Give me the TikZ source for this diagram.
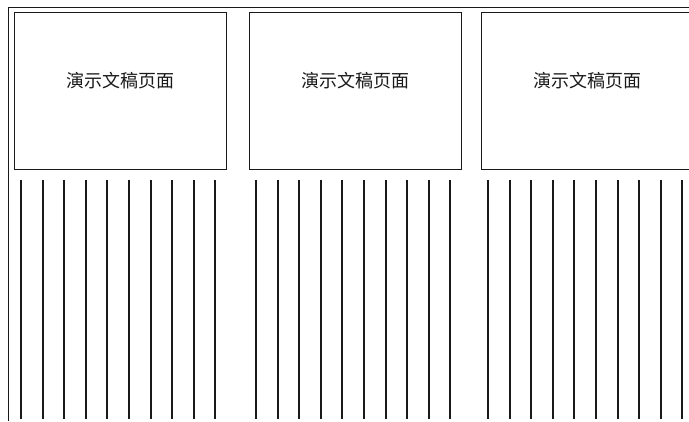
\documentclass[tikz,border=0pt]{standalone}
\usepackage{fontspec}
\newfontfamily\cjk{Noto Sans CJK SC}
\usetikzlibrary{positioning}
\definecolor{scanblack}{RGB}{25,25,25}

\tikzset{
  frame/.style={scanblack, line width=0.8pt},
  page/.style={draw=scanblack, line width=0.9pt, minimum width=212pt,
    minimum height=157pt, inner sep=0pt},
  pagetext/.style={font=\cjk\fontsize{18}{20}\selectfont, text=scanblack},
  rule/.style={scanblack, line width=2pt}
}

\begin{document}
\begin{tikzpicture}[x=1pt, y=-1pt]
  \clip (0,0) rectangle (689,422);

  % Outer frame
  \draw[frame] (8,421) -- (8,7) -- (689,7);

  % Slide pages with their note lines
  \foreach \i/\xl in {1/14, 2/249, 3/481} {
    \node[page, anchor=north west] (page\i) at (\xl,12) {};
    \node[pagetext] (title\i) at ([yshift=10pt]page\i.center) {演示文稿页面};

    % Note lines below the page
    \foreach \k in {0,...,9}
      \draw[rule] ({\xl+7+21.6*\k},180) -- ({\xl+7+21.6*\k},419);
  }
\end{tikzpicture}
\end{document}
